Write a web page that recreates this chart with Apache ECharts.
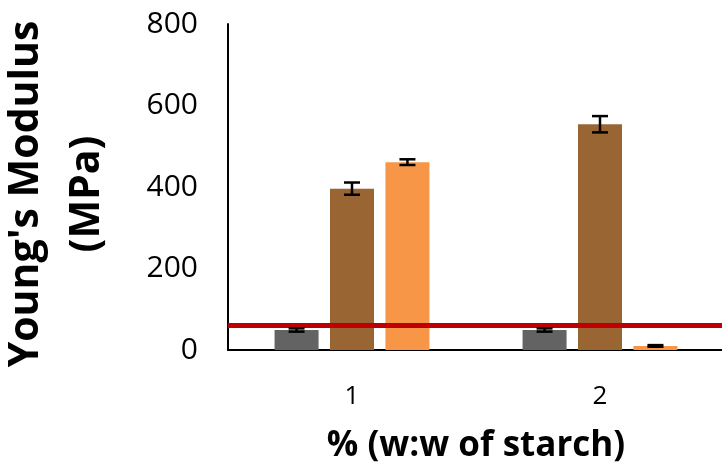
<!DOCTYPE html>
<html><head><meta charset="utf-8">
<script src="https://cdn.jsdelivr.net/npm/echarts@6/dist/echarts.min.js"></script>
<style>html,body{margin:0;padding:0;background:#fff}#c{width:722px;height:465px}</style>
</head><body><div id="c"></div>
<script>
const categories = ['1', '2'];
const seriesA = [49, 49];
const seriesB = [396, 554];
const seriesC = [461, 10];
const errA = [4, 4];
const errB = [15, 20];
const errC = [7, 2];
const referenceLine = 60;
const yTicks = [0, 200, 400, 600, 800];

const colors = ['#636363', '#996633', '#F79646'];
const BAR_W = 44, BAR_GAP = 0.26;
const allVals = [seriesA, seriesB, seriesC];
const allErr = [errA, errB, errC];

const errData = [];
allVals.forEach((vals, si) => vals.forEach((v, ci) => errData.push([ci, v, allErr[si][ci], si])));

const chart = echarts.init(document.getElementById('c'));
const font = '"Open Sans", sans-serif';
chart.setOption({
  animation: false,
  grid: {left: 228, right: -2, top: 24, bottom: 115, containLabel: false, outerBoundsMode: 'none'},
  xAxis: {
    type: 'category', data: categories,
    axisLine: {lineStyle: {color: '#000', width: 2}},
    axisTick: {show: false},
    axisLabel: {fontFamily: font, fontSize: 26, color: '#000', margin: 34},
    name: '% (w:w of starch)', nameLocation: 'middle', nameGap: 79,
    nameTextStyle: {fontFamily: font, fontSize: 35, fontWeight: 'bold', color: '#000'}
  },
  yAxis: {
    type: 'value', min: yTicks[0], max: yTicks[yTicks.length - 1], interval: 200,
    axisLine: {show: true, lineStyle: {color: '#000', width: 2}},
    axisTick: {show: false},
    splitLine: {show: false},
    axisLabel: {fontFamily: font, fontSize: 30, color: '#000', margin: 30},
    name: "Young's Modulus\n(MPa)", nameLocation: 'middle', nameGap: 110,
    nameTextStyle: {fontFamily: font, fontSize: 41, fontWeight: 'bold', color: '#000', lineHeight: 61,
      padding: [0, 14, 0, 0]}
  },
  series: [
    {type: 'bar', data: seriesA, barWidth: BAR_W, barGap: (BAR_GAP * 100) + '%', itemStyle: {color: colors[0]},
     markLine: {silent: true, symbol: ['none', 'none'], label: {show: false},
       lineStyle: {color: '#C00000', width: 5, type: 'solid'}, data: [{yAxis: referenceLine}]}},
    {type: 'bar', data: seriesB, barWidth: BAR_W, barGap: (BAR_GAP * 100) + '%', itemStyle: {color: colors[1]}},
    {type: 'bar', data: seriesC, barWidth: BAR_W, barGap: (BAR_GAP * 100) + '%', itemStyle: {color: colors[2]}},
    {type: 'custom', data: errData, z: 10,
     renderItem: function (params, api) {
       const ci = api.value(0), v = api.value(1), e = api.value(2), si = api.value(3);
       const off = (si - 1) * BAR_W * (1 + BAR_GAP);
       const top = api.coord([ci, v + e]);
       const bot = api.coord([ci, v - e]);
       const x = top[0] + off, hw = 8;
       const st = {stroke: '#000', lineWidth: 2.5};
       return {type: 'group', children: [
         {type: 'line', shape: {x1: x, y1: top[1], x2: x, y2: bot[1]}, style: st},
         {type: 'line', shape: {x1: x - hw, y1: top[1], x2: x + hw, y2: top[1]}, style: st},
         {type: 'line', shape: {x1: x - hw, y1: bot[1], x2: x + hw, y2: bot[1]}, style: st}
       ]};
     }}
  ]
});
</script></body></html>
